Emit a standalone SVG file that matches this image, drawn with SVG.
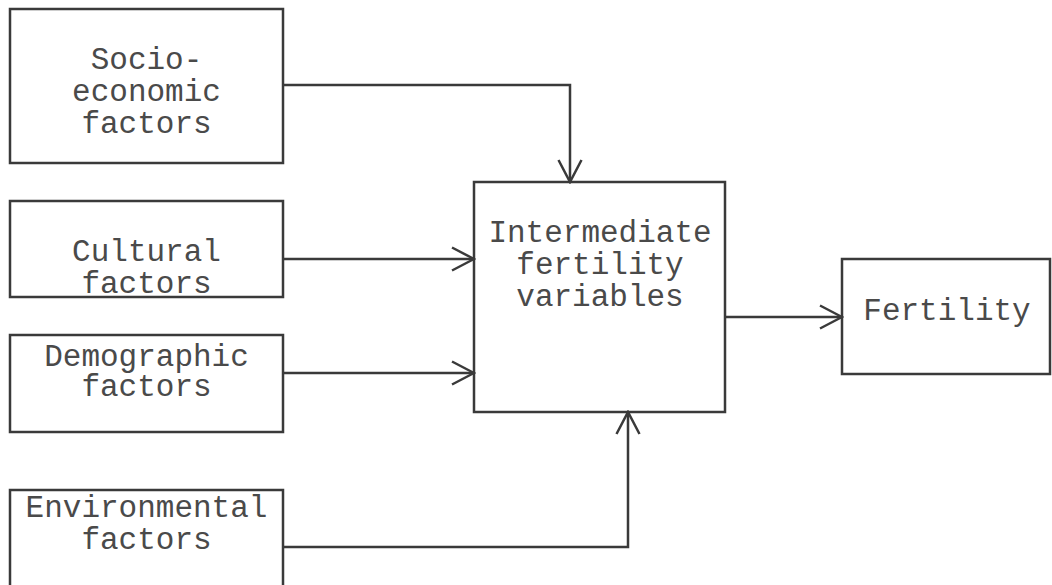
<svg xmlns="http://www.w3.org/2000/svg" width="1052" height="585" viewBox="0 0 1052 585">
<style>
.box{fill:none;stroke:#3a3a3a;stroke-width:2.5}
.lbl{font-family:"Liberation Mono","Courier New",monospace;font-size:31px;fill:#4a4a4a;text-anchor:middle}
.con{fill:none;stroke:#3a3a3a;stroke-width:2.5}
</style>
<defs>
<marker id="arr" viewBox="-24 -13 26 26" refX="0" refY="0" markerWidth="26" markerHeight="26" markerUnits="userSpaceOnUse" orient="auto">
<path d="M-22,-11.5 L0,0 L-22,11.5" fill="none" stroke="#3a3a3a" stroke-width="2.5"/>
</marker>
</defs>
<rect width="1052" height="585" fill="#ffffff"/>
<g id="socio">
<rect class="box" x="10" y="9" width="273" height="154"/>
<text class="lbl" x="146.5" y="69">Socio-</text>
<text class="lbl" x="146.5" y="101">economic</text>
<text class="lbl" x="146.5" y="133">factors</text>
</g>
<g id="cultural">
<rect class="box" x="10" y="201" width="273" height="96"/>
<text class="lbl" x="146.5" y="261">Cultural</text>
<text class="lbl" x="146.5" y="293">factors</text>
</g>
<g id="demographic">
<rect class="box" x="10" y="335" width="273" height="97"/>
<text class="lbl" x="146.5" y="366">Demographic</text>
<text class="lbl" x="146.5" y="396">factors</text>
</g>
<g id="environmental">
<rect class="box" x="10" y="490" width="273" height="110"/>
<text class="lbl" x="146.5" y="517">Environmental</text>
<text class="lbl" x="146.5" y="549">factors</text>
</g>
<g id="intermediate">
<rect class="box" x="474" y="182" width="251" height="230"/>
<text class="lbl" x="600" y="242">Intermediate</text>
<text class="lbl" x="600" y="274">fertility</text>
<text class="lbl" x="600" y="306">variables</text>
</g>
<g id="fertility">
<rect class="box" x="842" y="259" width="208" height="115"/>
<text class="lbl" x="947" y="320">Fertility</text>
</g>
<g id="connectors">
<path class="con" d="M283,85 H570 V182" marker-end="url(#arr)"/>
<path class="con" d="M283,259 H474" marker-end="url(#arr)"/>
<path class="con" d="M283,373 H474" marker-end="url(#arr)"/>
<path class="con" d="M283,547 H628 V412" marker-end="url(#arr)"/>
<path class="con" d="M725,317 H842" marker-end="url(#arr)"/>
</g>
</svg>
